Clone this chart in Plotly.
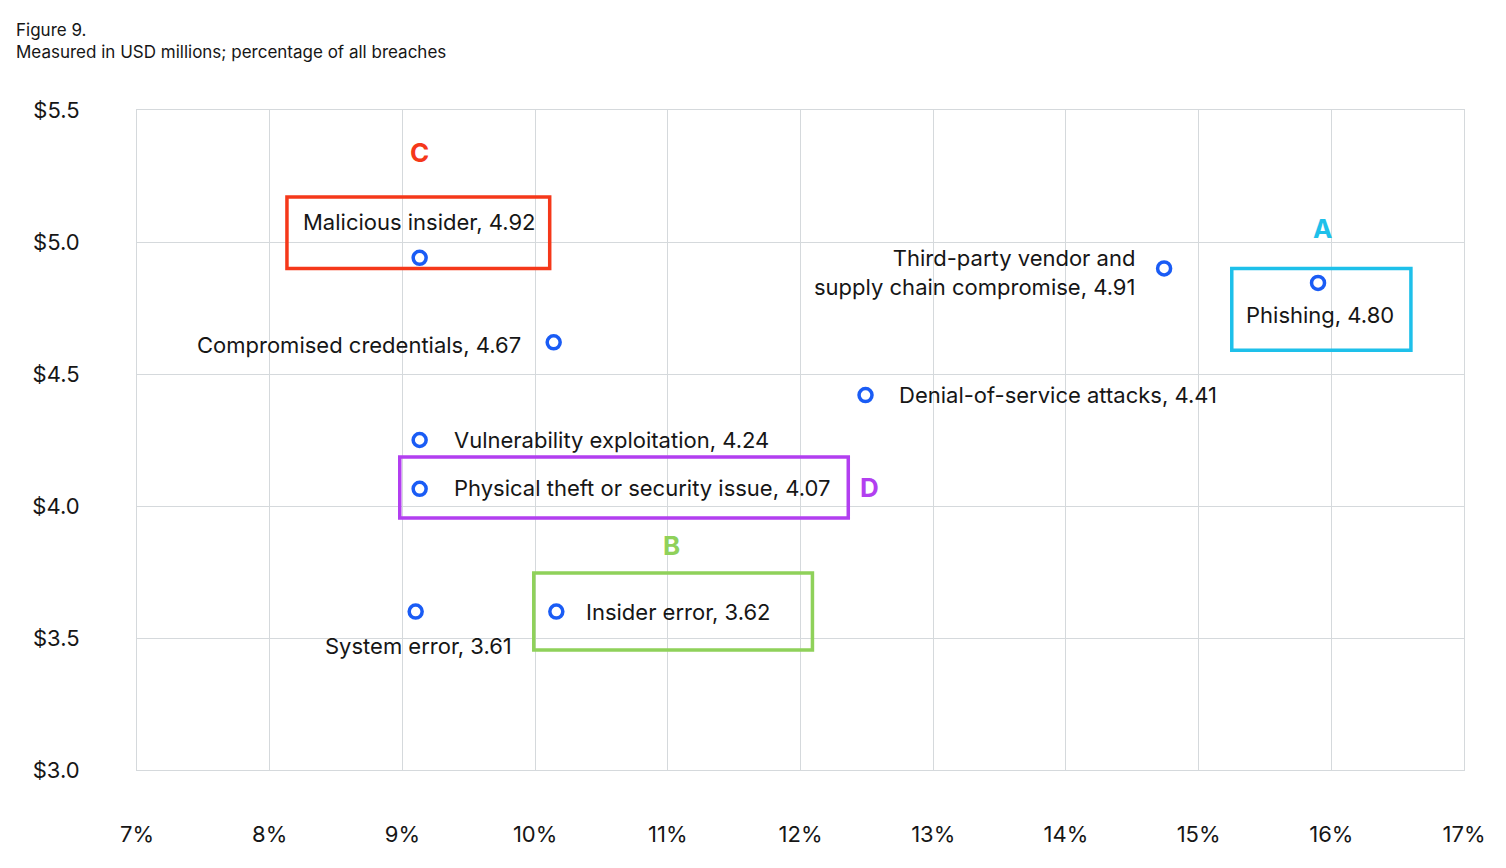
import plotly.graph_objects as go

# breach type, share of all breaches (%), average cost (USD millions)
names = ["Malicious insider", "Compromised credentials", "Third-party vendor and<br>supply chain compromise",
         "Phishing", "Denial-of-service attacks", "Vulnerability exploitation",
         "Physical theft or security issue", "System error", "Insider error"]
share = [9.13, 10.14, 14.74, 15.90, 12.49, 9.13, 9.13, 9.10, 10.16]
cost_pos = [4.94, 4.62, 4.90, 4.845, 4.42, 4.25, 4.065, 3.60, 3.60]
cost_label = ["4.92", "4.67", "4.91", "4.80", "4.41", "4.24", "4.07", "3.61", "3.62"]

# label offsets in pixels relative to each point: (xshift, yshift, xanchor)
label_pos = [(0, 36, "center"), (-31, -3, "right"), (-27, -4, "right"), (2, -32, "center"),
             (31, 0, "left"), (32, 0, "left"), (32, 1, "left"), (3, -34, "center"), (28, 0, "left")]

FONT = "Inter, Open Sans, sans-serif"
fig = go.Figure()
fig.add_trace(go.Scatter(
    x=share, y=cost_pos, mode="markers",
    marker=dict(size=13, color="white", line=dict(color="#1a5cf5", width=3.5)),
    hoverinfo="skip", showlegend=False))

for n, x, y, c, (dx, dy, xa) in zip(names, share, cost_pos, cost_label, label_pos):
    fig.add_annotation(x=x, y=y, text=f"{n}, {c}", showarrow=False, xshift=dx, yshift=dy,
                       xanchor=xa, align="right" if xa == "right" else "center",
                       font=dict(size=22, color="#161616", family=FONT))

# highlight boxes (x0, x1, y0, y1, colour, letter, letter position)
boxes = [
    (8.13, 10.11, 4.90, 5.17, "#f5381a", "C", 9.13, 5.34),
    (15.25, 16.60, 4.59, 4.90, "#1ec0ea", "A", 15.93, 5.05),
    (8.98, 12.36, 3.955, 4.186, "#b23ff0", "D", 12.52, 4.07),
    (9.99, 12.09, 3.455, 3.746, "#8fd15a", "B", 11.03, 3.85),
]
for x0, x1, y0, y1, col, letter, lx, ly in boxes:
    fig.add_shape(type="rect", x0=x0, x1=x1, y0=y0, y1=y1, line=dict(color=col, width=3.5))
    fig.add_annotation(x=lx, y=ly, text=f"<b>{letter}</b>", showarrow=False,
                       font=dict(size=26, color=col, family=FONT))

fig.add_annotation(xref="paper", yref="paper", x=-0.093, y=1.139, xanchor="left", yanchor="top",
                   text="Figure 9.<br>Measured in USD millions; percentage of all breaches",
                   showarrow=False, align="left", font=dict(size=17, color="#161616", family=FONT))

grid = "#d5d9dc"
fig.update_xaxes(range=[7, 17], tickvals=list(range(7, 18)),
                 ticktext=[f"{v}%" for v in range(7, 18)], showgrid=True, gridcolor=grid,
                 showline=True, linecolor=grid, mirror=True, zeroline=False, ticks="",
                 ticklabelstandoff=45, tickfont=dict(size=22, color="#161616", family=FONT))
fig.update_yaxes(range=[3.0, 5.5], tickvals=[3.0, 3.5, 4.0, 4.5, 5.0, 5.5],
                 ticktext=["$3.0", "$3.5", "$4.0", "$4.5", "$5.0", "$5.5"], showgrid=True,
                 gridcolor=grid, showline=True, linecolor=grid, mirror=True, zeroline=False,
                 ticks="", ticklabelstandoff=52, tickfont=dict(size=22, color="#161616", family=FONT))
fig.update_layout(width=1490, height=852, plot_bgcolor="white", paper_bgcolor="white",
                  margin=dict(l=129, r=25, t=102, b=90), showlegend=False)

fig.write_html("out.html")
